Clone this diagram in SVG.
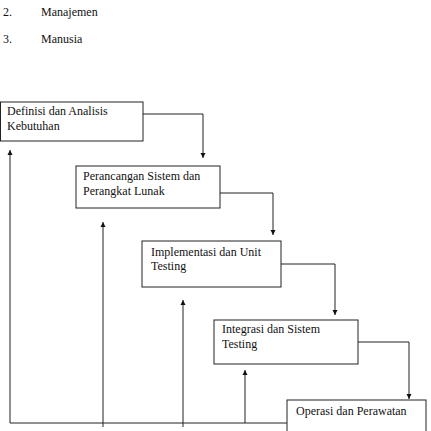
<svg xmlns="http://www.w3.org/2000/svg" width="431" height="431" viewBox="0 0 431 431">
<defs>
<style>
text{font-family:"Liberation Serif","Times New Roman",serif;font-size:12px;fill:#111}
.box{fill:#fff;stroke:#222;stroke-width:1}
.ln{fill:none;stroke:#222;stroke-width:1}
</style>
<marker id="ah" viewBox="0 0 10 10" refX="10" refY="5" markerWidth="5" markerHeight="6" orient="auto" markerUnits="userSpaceOnUse">
<path d="M0,0 L10,5 L0,10 z" fill="#111"/>
</marker>
</defs>
<rect width="431" height="431" fill="#fff"/>
<g id="list">
<text x="3" y="16">2.</text><text x="41" y="16">Manajemen</text>
<text x="3" y="43">3.</text><text x="41" y="43">Manusia</text>
</g>
<g id="connectors">
<polyline class="ln" points="143,114 203,114 203,158" marker-end="url(#ah)"/>
<polyline class="ln" points="220,193 273,193 273,235" marker-end="url(#ah)"/>
<polyline class="ln" points="281,264 335,264 335,315" marker-end="url(#ah)"/>
<polyline class="ln" points="358,342 409,342 409,399" marker-end="url(#ah)"/>
<line class="ln" x1="10" y1="423" x2="287" y2="423"/>
<line class="ln" x1="10" y1="423" x2="10" y2="150" marker-end="url(#ah)"/>
<line class="ln" x1="103" y1="427" x2="103" y2="222" marker-end="url(#ah)"/>
<line class="ln" x1="183" y1="427" x2="183" y2="300" marker-end="url(#ah)"/>
<line class="ln" x1="245" y1="423" x2="245" y2="370" marker-end="url(#ah)"/>
</g>
<g id="n1"><rect class="box" x="0.5" y="102" width="142.5" height="39"/><text x="7" y="115">Definisi dan Analisis</text><text x="7" y="130">Kebutuhan</text></g>
<g id="n2"><rect class="box" x="76" y="166" width="144" height="42"/><text x="83" y="180">Perancangan Sistem dan</text><text x="83" y="195">Perangkat Lunak</text></g>
<g id="n3"><rect class="box" x="142" y="241" width="139" height="46"/><text x="151" y="256">Implementasi dan Unit</text><text x="151" y="270">Testing</text></g>
<g id="n4"><rect class="box" x="214" y="320" width="144" height="44"/><text x="222" y="333">Integrasi dan Sistem</text><text x="222" y="348">Testing</text></g>
<g id="n5"><rect class="box" x="287" y="400" width="139" height="40"/><text x="296" y="415">Operasi dan Perawatan</text></g>
</svg>
